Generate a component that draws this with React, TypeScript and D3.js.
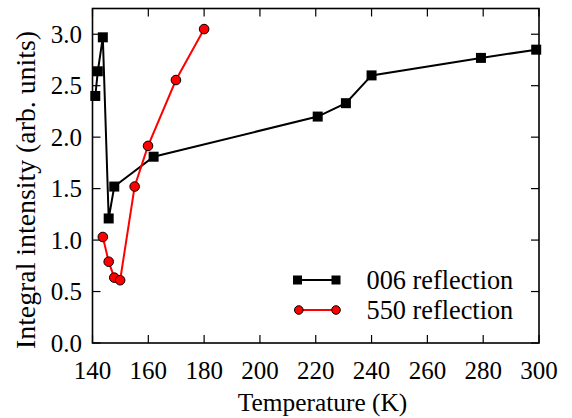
import React from "react";
import * as d3 from "d3";

const temps006 = [141, 141.9, 143.7, 145.8, 147.8, 161.9, 220.7, 230.8, 240, 279.2, 299];
const vals006 = [2.4, 2.64, 2.97, 1.21, 1.52, 1.81, 2.2, 2.33, 2.6, 2.77, 2.85];
const temps550 = [143.7, 145.8, 147.8, 149.9, 155.1, 159.9, 169.9, 180];
const vals550 = [1.03, 0.79, 0.635, 0.61, 1.52, 1.915, 2.555, 3.05];
const xTicks = [140, 160, 180, 200, 220, 240, 260, 280, 300];
const yTicks = [0, 0.5, 1.0, 1.5, 2.0, 2.5, 3.0];
const legendLabels = ["006 reflection", "550 reflection"];

const W = 572, H = 418;
const L = 92.5, R = 539, T = 8.5, B = 343;
const FONT = "'Liberation Serif', 'Times New Roman', serif";

export default function App() {
  const x = d3.scaleLinear().domain([140, 300]).range([L, R]);
  const y = d3.scaleLinear().domain([0, 3.25]).range([B, T]);
  const line = d3.line<[number, number]>().x(d => x(d[0])).y(d => y(d[1]));
  const d006: [number, number][] = temps006.map((t, i) => [t, vals006[i]]);
  const d550: [number, number][] = temps550.map((t, i) => [t, vals550[i]]);
  const tl = 8;
  const sq = 10;
  const ts = { fontFamily: FONT, fontSize: "25px" };
  const lg = { fontFamily: FONT, fontSize: "26.3px" };
  return (
    <svg width={W} height={H} style={{ position: "absolute", left: 0, top: 0, background: "#fff" }}>
      <defs>
        <clipPath id="clip">
          <rect x={L} y={T} width={R - L} height={B - T} />
        </clipPath>
      </defs>
      <rect width={W} height={H} fill="#fff" />
      {xTicks.map(t => (
        <g key={"x" + t}>
          <line x1={x(t)} x2={x(t)} y1={B} y2={B - tl} stroke="#000" strokeWidth={1.2} />
          <line x1={x(t)} x2={x(t)} y1={T} y2={T + tl} stroke="#000" strokeWidth={1.2} />
          <text x={x(t)} y={379} style={ts} textAnchor="middle">{t}</text>
        </g>
      ))}
      {yTicks.map(t => (
        <g key={"y" + t}>
          <line x1={L} x2={L + tl} y1={y(t)} y2={y(t)} stroke="#000" strokeWidth={1.2} />
          <line x1={R} x2={R - tl} y1={y(t)} y2={y(t)} stroke="#000" strokeWidth={1.2} />
          <text x={82} y={y(t) + 8.5} style={ts} textAnchor="end">{t.toFixed(1)}</text>
        </g>
      ))}
      <g clipPath="url(#clip)">
        <path d={line(d006) || ""} fill="none" stroke="#000" strokeWidth={2} />
        <path d={line(d550) || ""} fill="none" stroke="#f00" strokeWidth={2} />
      </g>
      {d006.map((p, i) => (
        <rect key={"s" + i} x={x(p[0]) - sq / 2} y={y(p[1]) - sq / 2} width={sq} height={sq} fill="#000" />
      ))}
      {d550.map((p, i) => (
        <circle key={"c" + i} cx={x(p[0])} cy={y(p[1])} r={4.8} fill="#f00" stroke="#000" strokeWidth={1} />
      ))}
      <rect x={L} y={T} width={R - L} height={B - T} fill="none" stroke="#000" strokeWidth={1.6} />
      <g>
        <line x1={297.5} x2={336} y1={280} y2={280} stroke="#000" strokeWidth={2} />
        <rect x={297.5 - 4.5} y={280 - 4.5} width={9} height={9} fill="#000" />
        <rect x={336 - 4.5} y={280 - 4.5} width={9} height={9} fill="#000" />
        <text x={366.5} y={288.5} style={lg}>{legendLabels[0]}</text>
        <line x1={298.8} x2={336} y1={310} y2={310} stroke="#f00" strokeWidth={2} />
        <circle cx={298.8} cy={310} r={4.3} fill="#f00" stroke="#000" strokeWidth={1} />
        <circle cx={336} cy={310} r={4.3} fill="#f00" stroke="#000" strokeWidth={1} />
        <text x={366.5} y={318.5} style={lg}>{legendLabels[1]}</text>
      </g>
      <text x={322.5} y={411} style={{ fontFamily: FONT, fontSize: "25.4px" }} textAnchor="middle">Temperature (K)</text>
      <text transform={`translate(35, 190) rotate(-90)`} style={{ fontFamily: FONT, fontSize: "27.8px" }} textAnchor="middle">Integral intensity (arb. units)</text>
    </svg>
  );
}
